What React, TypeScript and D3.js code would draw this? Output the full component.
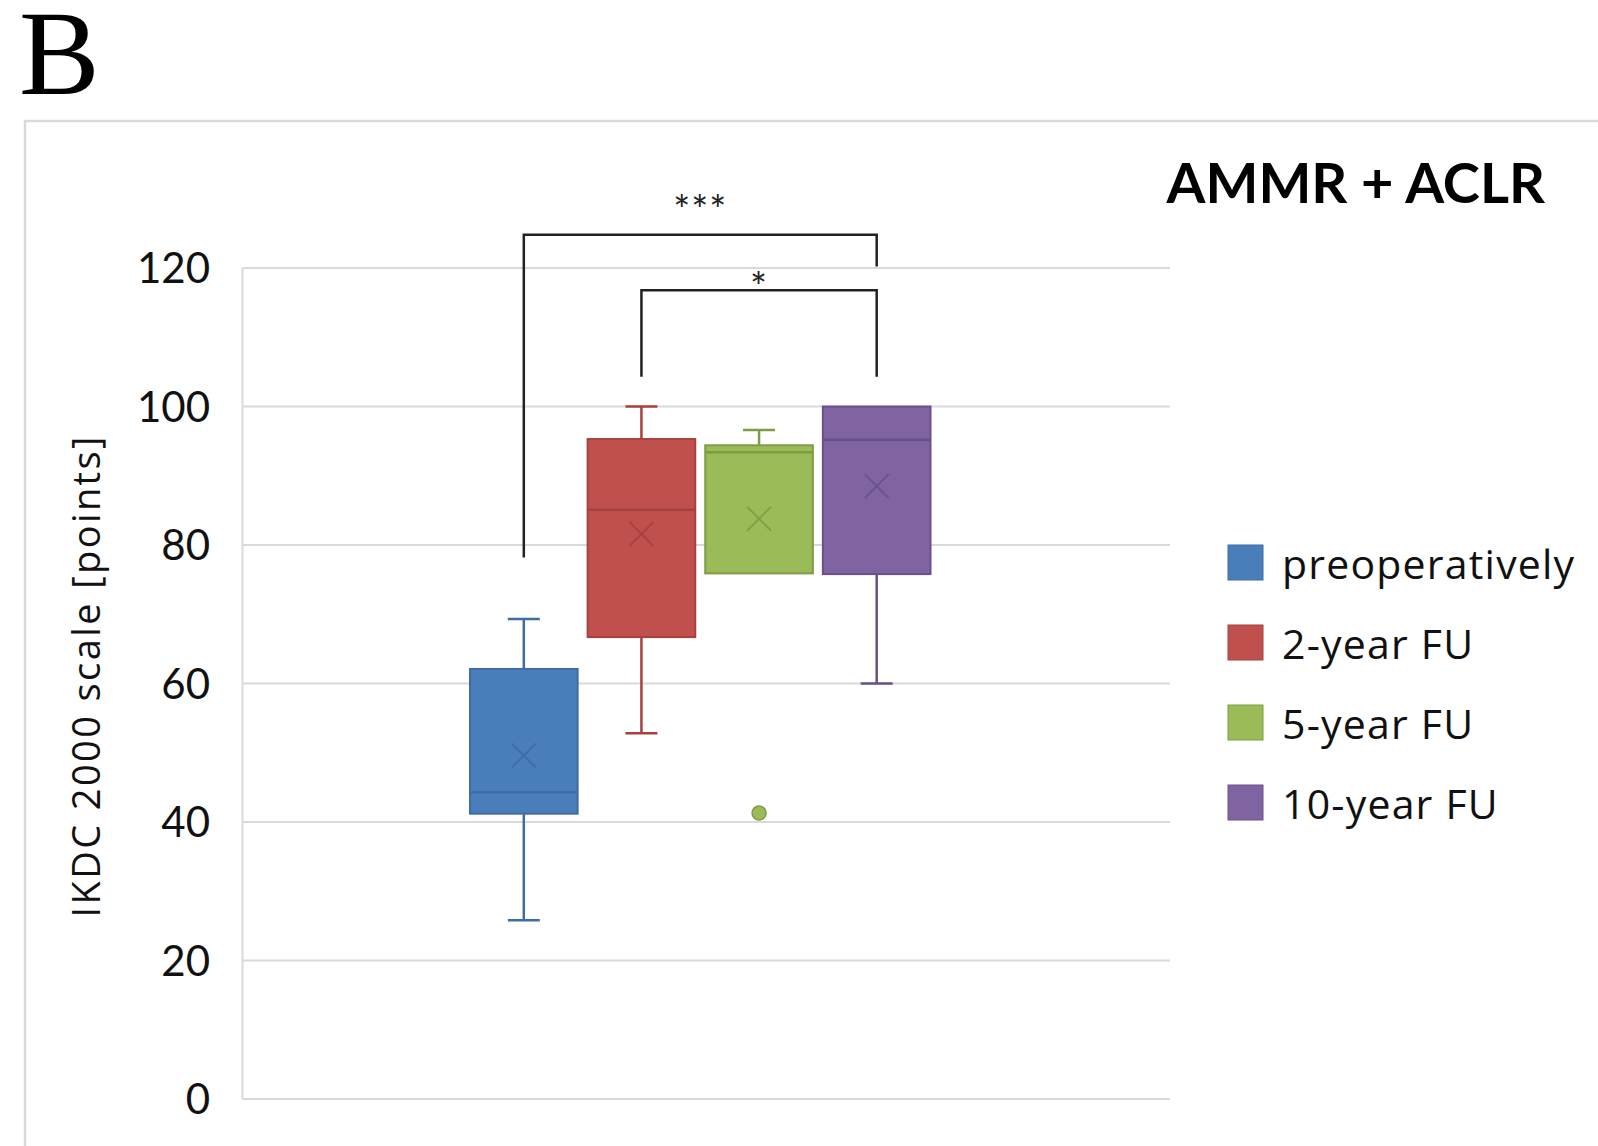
import React from "react";
import * as d3 from "d3";

const seriesNames = ["preoperatively", "2-year FU", "5-year FU", "10-year FU"];
const fillColors = ["#4A7EBB", "#C0504D", "#9BBB59", "#8064A2"];
const strokeColors = ["#3E6DA6", "#A8403D", "#7E9C43", "#68508A"];
const whiskerMin = [25.8, 52.8, 75.9, 60];
const quartile1 = [41.2, 66.7, 75.9, 75.8];
const medians = [44.3, 85.1, 93.4, 95.2];
const quartile3 = [62.1, 95.3, 94.4, 100];
const whiskerMax = [69.3, 100, 96.6, 100];
const means = [49.6, 81.6, 83.8, 88.5];
const outliers = [[], [], [41.3], []];
const yTicks = [0, 20, 40, 60, 80, 100, 120];
const sigFrom = ["preoperatively", "2-year FU"];
const sigTo = ["10-year FU", "10-year FU"];
const sigLabels = ["***", "*"];
const sigLevels = [124.8, 116.8];
const sigLeftFoot = [78.2, 104.3];
const sigRightFoot = [120.2, 104.3];

const W = 1598;
const H = 1146;
const FONT = "Lato, 'Open Sans', sans-serif";
const FONT2 = "'Open Sans', Lato, sans-serif";

export default function App() {
  const y = d3.scaleLinear().domain([0, 120]).range([1099, 268]);
  const x = d3
    .scaleBand<string>()
    .domain(seriesNames)
    .range([470, 930.5])
    .paddingInner(0.085)
    .paddingOuter(0);
  const bw = x.bandwidth();
  const cx = (s: string) => (x(s) as number) + bw / 2;
  const plotLeft = 242.5;
  const plotRight = 1170;
  const capHalf = 16;
  const xHalf = 12;

  return (
    <svg
      width={W}
      height={H}
      viewBox={`0 0 ${W} ${H}`}
      style={{ position: "absolute", left: 0, top: 0, background: "#fff" }}
    >
      <rect x={0} y={0} width={W} height={H} fill="#fff" />
      <text
        x={19}
        y={94}
        fontFamily="'Liberation Serif', 'Times New Roman', serif"
        fontSize={121}
        fill="#000"
      >
        B
      </text>
      {/* chart frame */}
      <path
        d={`M25,${H + 10} L25,121 L${W + 10},121`}
        fill="none"
        stroke="#d9d9d9"
        strokeWidth={2.5}
      />
      <text
        x={1545}
        y={203}
        textAnchor="end"
        fontFamily={FONT}
        fontWeight={700}
        fontSize={56}
        fill="#000"
      >
        AMMR + ACLR
      </text>
      {/* gridlines */}
      {yTicks.map((t) => (
        <line
          key={"g" + t}
          x1={plotLeft}
          x2={plotRight}
          y1={y(t)}
          y2={y(t)}
          stroke="#d9d9d9"
          strokeWidth={2}
        />
      ))}
      <line
        x1={plotLeft}
        x2={plotLeft}
        y1={y(120)}
        y2={y(0)}
        stroke="#d9d9d9"
        strokeWidth={2}
      />
      {yTicks.map((t) => (
        <text
          key={"t" + t}
          x={210}
          y={y(t)}
          dy="0.36em"
          textAnchor="end"
          fontFamily={FONT}
          fontSize={42}
          fill="#111"
        >
          {t}
        </text>
      ))}
      <text
        transform={`translate(100,677) rotate(-90)`}
        textAnchor="middle"
        fontFamily={FONT2}
        fontSize={38}
        textLength={481}
        lengthAdjust="spacing"
        fill="#111"
      >
        IKDC 2000 scale [points]
      </text>
      {/* boxes */}
      {seriesNames.map((s, i) => {
        const c = cx(s);
        const x0 = x(s) as number;
        return (
          <g key={s}>
            <line x1={c} x2={c} y1={y(whiskerMax[i])} y2={y(quartile3[i])} stroke={strokeColors[i]} strokeWidth={2.5} />
            <line x1={c} x2={c} y1={y(quartile1[i])} y2={y(whiskerMin[i])} stroke={strokeColors[i]} strokeWidth={2.5} />
            {whiskerMax[i] > quartile3[i] && (
              <line x1={c - capHalf} x2={c + capHalf} y1={y(whiskerMax[i])} y2={y(whiskerMax[i])} stroke={strokeColors[i]} strokeWidth={2.5} />
            )}
            {whiskerMin[i] < quartile1[i] && (
              <line x1={c - capHalf} x2={c + capHalf} y1={y(whiskerMin[i])} y2={y(whiskerMin[i])} stroke={strokeColors[i]} strokeWidth={2.5} />
            )}
            <rect
              x={x0}
              y={y(quartile3[i])}
              width={bw}
              height={y(quartile1[i]) - y(quartile3[i])}
              fill={fillColors[i]}
              stroke={strokeColors[i]}
              strokeWidth={2}
            />
            <line x1={x0} x2={x0 + bw} y1={y(medians[i])} y2={y(medians[i])} stroke={strokeColors[i]} strokeWidth={2.5} />
            <g stroke={strokeColors[i]} strokeWidth={2} opacity={0.85}>
              <line x1={c - xHalf} x2={c + xHalf} y1={y(means[i]) - xHalf} y2={y(means[i]) + xHalf} />
              <line x1={c - xHalf} x2={c + xHalf} y1={y(means[i]) + xHalf} y2={y(means[i]) - xHalf} />
            </g>
            {outliers[i].map((o, j) => (
              <circle key={j} cx={c} cy={y(o)} r={7} fill={fillColors[i]} stroke={strokeColors[i]} strokeWidth={1.5} />
            ))}
          </g>
        );
      })}
      {/* significance brackets */}
      {sigLabels.map((lab, k) => {
        const a = cx(sigFrom[k]);
        const b = cx(sigTo[k]);
        const yl = y(sigLevels[k]);
        return (
          <g key={"s" + k}>
            <path
              d={`M${a},${y(sigLeftFoot[k])} L${a},${yl} L${b},${yl} L${b},${y(sigRightFoot[k])}`}
              fill="none"
              stroke="#222"
              strokeWidth={2.5}
            />
            <text
              x={(a + b) / 2}
              y={yl + (k === 0 ? -10 : 12)}
              textAnchor="middle"
              fontFamily={FONT}
              fontSize={40}
              letterSpacing={1}
              fill="#222"
            >
              {lab}
            </text>
          </g>
        );
      })}
      {/* legend */}
      {seriesNames.map((s, i) => (
        <g key={"l" + s} transform={`translate(1228,${545 + i * 80})`}>
          <rect x={0} y={0} width={35} height={35} fill={fillColors[i]} stroke={strokeColors[i]} strokeWidth={1} />
          <text x={54} y={34} fontFamily={FONT2} fontSize={41} letterSpacing={1.2} fill="#111">
            {s}
          </text>
        </g>
      ))}
    </svg>
  );
}
